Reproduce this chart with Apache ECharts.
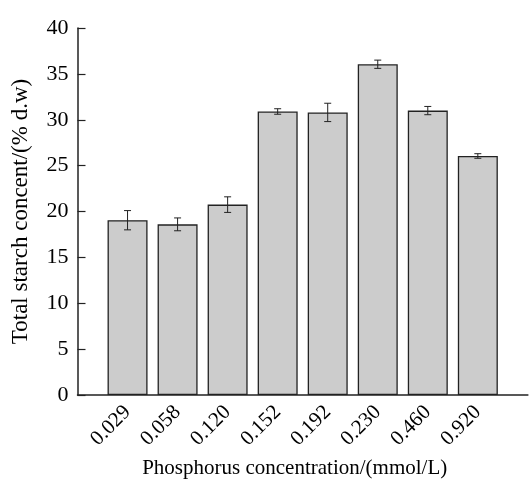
<!DOCTYPE html>
<html>
<head>
<meta charset="utf-8">
<script src="https://cdn.jsdelivr.net/npm/echarts@6/dist/echarts.min.js"></script>
<style>
  html, body { margin: 0; padding: 0; background: #fff; }
  #chart { width: 530px; height: 484px; }
</style>
</head>
<body>
<div id="chart"></div>
<script>
// blank slots at both ends so the bars sit one step in from the axis
const categories = ['', '0.029', '0.058', '0.120', '0.152', '0.192', '0.230', '0.460', '0.920', ''];
const starch = [null, 19.05, 18.6, 20.75, 30.9, 30.8, 36.05, 31.0, 26.05, null];
const errors = [null, 1.05, 0.7, 0.85, 0.3, 1.0, 0.45, 0.45, 0.25, null];
const yTicks = [0, 5, 10, 15, 20, 25, 30, 35, 40];

const font = 'Liberation Serif, Times New Roman, serif';

const errorData = starch
  .map((v, i) => (v == null ? null : [i, v - errors[i], v + errors[i]]))
  .filter(d => d);

const chart = echarts.init(document.getElementById('chart'));

chart.setOption({
  animation: false,
  grid: { left: 77.5, right: 0, top: 28, bottom: 86 },
  xAxis: {
    type: 'category',
    data: categories,
    boundaryGap: false,
    name: 'Phosphorus concentration/(mmol/L)',
    nameLocation: 'middle',
    nameGap: 63,
    nameTextStyle: { fontFamily: font, fontSize: 21, color: '#000', padding: [0, 16, 0, 0] },
    axisLine: { lineStyle: { color: '#222', width: 1.5 } },
    axisTick: { show: false },
    axisLabel: {
      interval: 0,
      rotate: 45,
      margin: 14,
      fontFamily: font,
      fontSize: 21,
      color: '#000'
    }
  },
  yAxis: {
    type: 'value',
    min: yTicks[0],
    max: yTicks[yTicks.length - 1],
    interval: 5,
    name: 'Total starch concent/(% d.w)',
    nameLocation: 'middle',
    nameGap: 45,
    nameTextStyle: { fontFamily: font, fontSize: 23, color: '#000' },
    axisLine: { show: true, lineStyle: { color: '#222', width: 1.5 } },
    axisTick: { show: true, inside: true, length: 8, lineStyle: { color: '#222', width: 1.2 } },
    splitLine: { show: false },
    axisLabel: { fontFamily: font, fontSize: 22, color: '#000', margin: 9 }
  },
  series: [
    {
      type: 'bar',
      data: starch,
      barWidth: 40,
      itemStyle: { color: '#cccccc', borderColor: '#222', borderWidth: 1.3 }
    },
    {
      type: 'custom',
      data: errorData,
      z: 5,
      renderItem: (params, api) => {
        const x = api.value(0);
        const lo = api.coord([x, api.value(1)]);
        const hi = api.coord([x, api.value(2)]);
        const cap = 3.5;
        const style = { stroke: '#222', lineWidth: 1 };
        return {
          type: 'group',
          children: [
            { type: 'line', shape: { x1: hi[0], y1: hi[1], x2: lo[0], y2: lo[1] }, style },
            { type: 'line', shape: { x1: hi[0] - cap, y1: hi[1], x2: hi[0] + cap, y2: hi[1] }, style },
            { type: 'line', shape: { x1: lo[0] - cap, y1: lo[1], x2: lo[0] + cap, y2: lo[1] }, style }
          ]
        };
      }
    }
  ]
});
</script>
</body>
</html>
